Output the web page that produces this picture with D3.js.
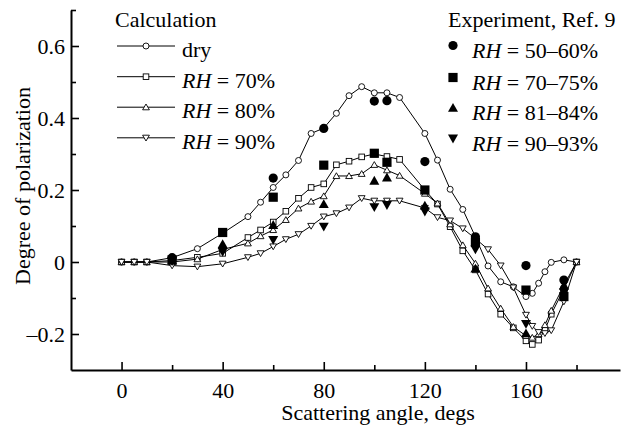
<!DOCTYPE html>
<html>
<head>
<meta charset="utf-8">
<script src="https://cdn.jsdelivr.net/npm/d3@7"></script>
<style>
  body { margin: 0; background: #fff; }
  svg { display: block; }
  text { font-family: "Liberation Serif", "Times New Roman", Times, "DejaVu Serif", serif; fill: #000; }
</style>
</head>
<body>
<div id="chart"></div>
<script>
(function () {
  const serif = '"Liberation Serif", "Times New Roman", Times, "DejaVu Serif", serif';

  // calculated curves share the same angles
  const calcAngles = [0, 5, 10, 20, 30, 40, 50, 55, 60, 65, 70, 75, 80, 85, 90, 95, 100, 105, 110,
    120, 125, 130, 135, 140, 145, 150, 155, 160, 162.5, 165, 167.5, 170, 175, 180];

  const calcDry = [0, 0, 0, 0.012, 0.037, 0.08, 0.126, 0.166, 0.207, 0.242, 0.282, 0.357, 0.372, 0.413, 0.462, 0.487, 0.47, 0.47, 0.457,
    0.357, 0.283, 0.202, 0.146, 0.07, -0.011, -0.055, -0.069, -0.096, -0.087, -0.059, -0.027, -0.001, 0.006, 0];
  const calcRH70 = [0, 0, 0, 0.004, 0.013, 0.024, 0.068, 0.089, 0.111, 0.141, 0.177, 0.207, 0.217, 0.27, 0.28, 0.292, 0.3, 0.293, 0.285,
    0.2, 0.161, 0.098, 0.031, -0.022, -0.089, -0.145, -0.183, -0.219, -0.229, -0.217, -0.189, -0.145, -0.075, 0];
  const calcRH80 = [0, 0, 0, 0, 0.008, 0.035, 0.052, 0.072, 0.089, 0.117, 0.149, 0.168, 0.183, 0.239, 0.239, 0.245, 0.27, 0.255, 0.24,
    0.19, 0.163, 0.105, 0.047, -0.004, -0.073, -0.129, -0.18, -0.205, -0.21, -0.2, -0.175, -0.135, -0.065, 0];
  const calcRH90 = [0, 0, 0, -0.01, -0.013, -0.005, 0.013, 0.024, 0.043, 0.063, 0.077, 0.1, 0.126, 0.135, 0.151, 0.177, 0.17, 0.17, 0.17,
    0.15, 0.124, 0.115, 0.093, 0.065, 0.035, -0.01, -0.071, -0.147, -0.178, -0.195, -0.198, -0.19, -0.11, 0];

  // experiment, Ref. 9
  const exp50Angles = [20, 60, 80, 100, 105, 120, 140, 160, 175];
  const exp50 = [0.012, 0.233, 0.371, 0.447, 0.448, 0.279, 0.07, -0.01, -0.05];
  const expAngles = [20, 40, 60, 80, 100, 105, 120, 140, 160, 175];
  const exp70 = [0.006, 0.082, 0.18, 0.269, 0.302, 0.277, 0.2, 0.055, -0.078, -0.096];
  const exp81 = [0.004, 0.05, 0.103, 0.161, 0.226, 0.235, 0.157, -0.018, -0.198, -0.065];
  const exp90 = [0.002, 0.028, 0.061, 0.098, 0.152, 0.158, 0.14, 0.035, -0.172, -0.085];

  const xMajor = [0, 40, 80, 120, 160];
  const xMinor = [20, 60, 100, 140, 180];
  const yMajor = [-0.2, 0, 0.2, 0.4, 0.6];
  const yMinor = [-0.1, 0.1, 0.3, 0.5, 0.7];

  const width = 621, height = 430;
  const svg = d3.select('#chart').append('svg')
    .attr('width', width)
    .attr('height', height);

  const x = d3.scaleLinear().domain([-20, 197.2]).range([71, 620]);
  const y = d3.scaleLinear().domain([-0.3, 0.7]).range([370, 10]);

  const fmt = d => d === 0 ? '0' : (d < 0 ? '\u2013' : '') + Math.abs(d).toFixed(1);

  //axes, ticks point inward
  const gy = svg.append('g')
    .attr('transform', 'translate(71,0)')
    .call(d3.axisLeft(y).tickValues(yMajor).tickSize(-8).tickSizeOuter(0).tickPadding(6).tickFormat(fmt));
  svg.append('g')
    .attr('transform', 'translate(71,0)')
    .call(d3.axisLeft(y).tickValues(yMinor).tickSize(-5).tickFormat(''))
    .call(g => g.select('.domain').remove());

  const gx = svg.append('g')
    .attr('transform', 'translate(0,370)')
    .call(d3.axisBottom(x).tickValues(xMajor).tickSize(-8).tickSizeOuter(0).tickPadding(12));
  svg.append('g')
    .attr('transform', 'translate(0,370)')
    .call(d3.axisBottom(x).tickValues(xMinor).tickSize(-5).tickFormat(''))
    .call(g => g.select('.domain').remove());

  svg.selectAll('.domain').attr('stroke-width', 2);
  svg.selectAll('.tick line').attr('stroke-width', 1.6);
  [gx, gy].forEach(g => g.selectAll('text')
    .style('font-family', serif)
    .style('font-size', '22px')
    .attr('fill', '#000'));
  gy.selectAll('text').attr('dy', '0.36em');

  svg.append('text')
    .attr('transform', 'translate(30,186) rotate(-90)')
    .attr('text-anchor', 'middle')
    .style('font-size', '22px')
    .text('Degree of polarization');

  svg.append('text')
    .attr('x', 378)
    .attr('y', 420)
    .attr('text-anchor', 'middle')
    .style('font-size', '22px')
    .text('Scattering angle, degs');

  //marker shapes
  function marker(g, kind, cx, cy) {
    if (kind === 'circle') {
      g.append('circle').attr('cx', cx).attr('cy', cy).attr('r', 3)
        .attr('fill', '#fff').attr('stroke', '#000').attr('stroke-width', 0.9);
    } else if (kind === 'square') {
      g.append('rect').attr('x', cx - 2.8).attr('y', cy - 2.8).attr('width', 5.6).attr('height', 5.6)
        .attr('fill', '#fff').attr('stroke', '#000').attr('stroke-width', 0.9);
    } else if (kind === 'up') {
      g.append('path').attr('d', `M${cx},${cy - 3.2}L${cx + 3.4},${cy + 2.6}L${cx - 3.4},${cy + 2.6}Z`)
        .attr('fill', '#fff').attr('stroke', '#000').attr('stroke-width', 0.9);
    } else if (kind === 'down') {
      g.append('path').attr('d', `M${cx},${cy + 3.2}L${cx + 3.4},${cy - 2.6}L${cx - 3.4},${cy - 2.6}Z`)
        .attr('fill', '#fff').attr('stroke', '#000').attr('stroke-width', 0.9);
    } else if (kind === 'fcircle') {
      g.append('circle').attr('cx', cx).attr('cy', cy).attr('r', 4.6).attr('fill', '#000');
    } else if (kind === 'fsquare') {
      g.append('rect').attr('x', cx - 4.6).attr('y', cy - 4.6).attr('width', 9.2).attr('height', 9.2).attr('fill', '#000');
    } else if (kind === 'fup') {
      g.append('path').attr('d', `M${cx},${cy - 4.8}L${cx + 5},${cy + 4}L${cx - 5},${cy + 4}Z`).attr('fill', '#000');
    } else if (kind === 'fdown') {
      g.append('path').attr('d', `M${cx},${cy + 4.8}L${cx + 5},${cy - 4}L${cx - 5},${cy - 4}Z`).attr('fill', '#000');
    }
  }

  const line = d3.line().x(d => x(d[0])).y(d => y(d[1]));

  const calcSeries = [
    { name: 'dry', values: calcDry, kind: 'circle' },
    { name: 'RH70', values: calcRH70, kind: 'square' },
    { name: 'RH80', values: calcRH80, kind: 'up' },
    { name: 'RH90', values: calcRH90, kind: 'down' }
  ];

  calcSeries.forEach(s => {
    const pts = calcAngles.map((a, i) => [a, s.values[i]]);
    const g = svg.append('g').attr('class', 'calc-' + s.name);
    g.append('path')
      .attr('d', line(pts))
      .attr('fill', 'none')
      .attr('stroke', '#000')
      .attr('stroke-width', 1);
    pts.forEach(p => marker(g, s.kind, x(p[0]), y(p[1])));
  });

  const expSeries = [
    { angles: exp50Angles, values: exp50, kind: 'fcircle' },
    { angles: expAngles, values: exp70, kind: 'fsquare' },
    { angles: expAngles, values: exp81, kind: 'fup' },
    { angles: expAngles, values: exp90, kind: 'fdown' }
  ];

  expSeries.forEach(s => {
    const g = svg.append('g');
    s.angles.forEach((a, i) => marker(g, s.kind, x(a), y(s.values[i])));
  });

  //legends
  const leg = svg.append('g');
  leg.append('text').attr('x', 115).attr('y', 27).style('font-size', '22px').text('Calculation');
  const calcLabels = [['', 'dry'], ['RH', ' = 70%'], ['RH', ' = 80%'], ['RH', ' = 90%']];
  const calcRows = [46, 76.7, 107.2, 137.8];
  calcSeries.forEach((s, i) => {
    const ly = calcRows[i];
    leg.append('line').attr('x1', 117).attr('x2', 175).attr('y1', ly).attr('y2', ly)
      .attr('stroke', '#000').attr('stroke-width', 1);
    marker(leg, s.kind, 146, ly);
    const t = leg.append('text').attr('x', 182).attr('y', ly + 11).style('font-size', '22px');
    if (calcLabels[i][0]) t.append('tspan').style('font-style', 'italic').text(calcLabels[i][0]);
    t.append('tspan').text(calcLabels[i][1]);
  });

  leg.append('text').attr('x', 448).attr('y', 27).style('font-size', '22px').text('Experiment, Ref. 9');
  const expLabels = [' = 50\u201360%', ' = 70\u201375%', ' = 81\u201384%', ' = 90\u201393%'];
  const expRows = [45.5, 77.5, 107.8, 138.6];
  expSeries.forEach((s, i) => {
    const ly = expRows[i];
    marker(leg, s.kind, 453, ly);
    const t = leg.append('text').attr('x', 472).attr('y', ly + 12).style('font-size', '22px');
    t.append('tspan').style('font-style', 'italic').text('RH');
    t.append('tspan').text(expLabels[i]);
  });
})();
</script>
</body>
</html>
